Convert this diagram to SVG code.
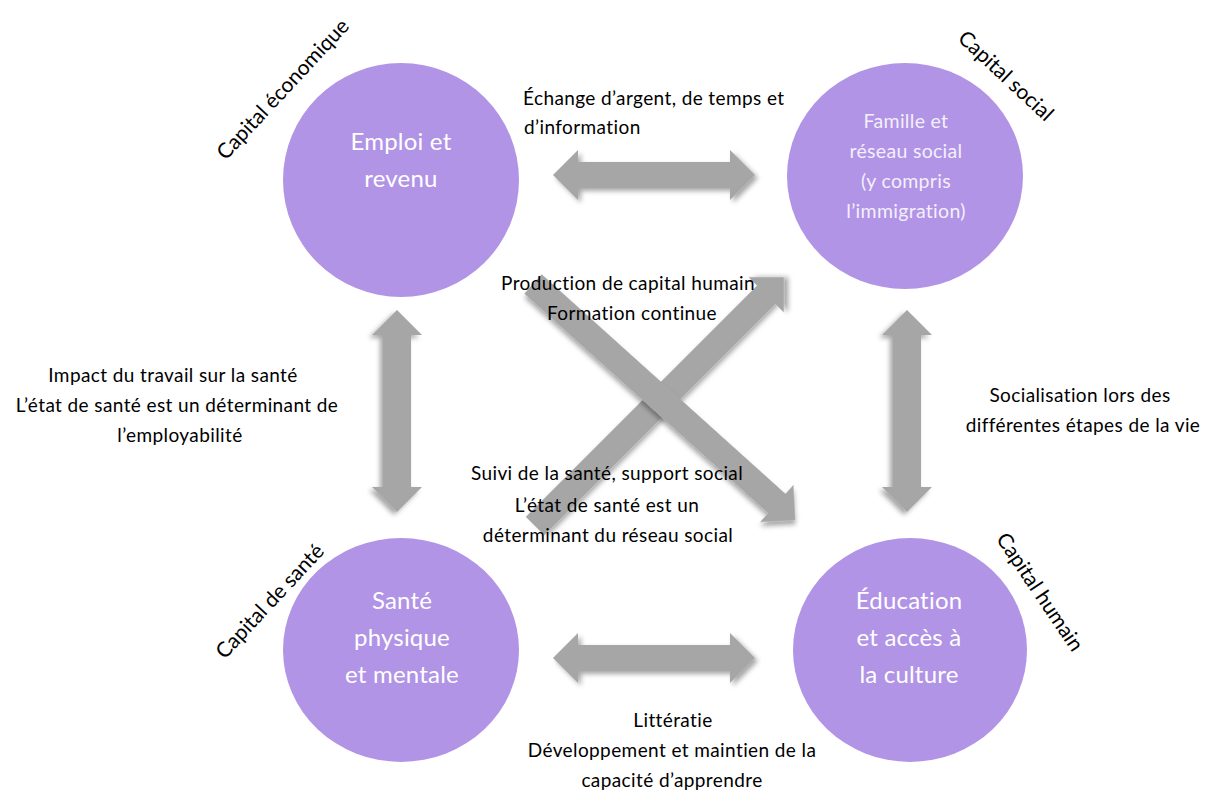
<svg xmlns="http://www.w3.org/2000/svg" width="1207" height="793" viewBox="0 0 1207 793">
<defs>
<filter id="sh" x="-20%" y="-20%" width="140%" height="140%">
<feDropShadow dx="3" dy="3" stdDeviation="2.5" flood-color="#000" flood-opacity="0.35"/>
</filter>
<style>
.c{fill:#b194e6}
.ct{font-family:Lato,"Open Sans",sans-serif;fill:#ffffff;text-anchor:middle;font-size:24px;letter-spacing:0.2px}
.cs{font-family:Lato,"Open Sans",sans-serif;fill:#f4effc;text-anchor:middle;font-size:19.5px;letter-spacing:0.3px}
.t{font-family:Lato,"Open Sans",sans-serif;fill:#000;font-size:19px;letter-spacing:0.4px;text-anchor:middle}
.r{font-family:Lato,"Open Sans",sans-serif;fill:#000;font-size:21px;text-anchor:middle}
.a{fill:#a6a6a6;filter:url(#sh)}
</style>
</defs>
<rect width="1207" height="793" fill="#ffffff"/>
<g id="connectors">
<path class="a" d="M0,0 L25,-25 L25,-13 L177,-13 L177,-25 L202,0 L177,25 L177,13 L25,13 L25,25 Z" transform="translate(553,175)"/>
<path class="a" d="M0,0 L25,-25 L25,-13 L177,-13 L177,-25 L202,0 L177,25 L177,13 L25,13 L25,25 Z" transform="translate(553,658)"/>
<path class="a" d="M0,0 L25,-25 L25,-14 L177,-14 L177,-25 L202,0 L177,25 L177,14 L25,14 L25,25 Z" transform="translate(397,310) rotate(90)"/>
<path class="a" d="M0,0 L25,-25 L25,-14 L177,-14 L177,-25 L202,0 L177,25 L177,14 L25,14 L25,25 Z" transform="translate(907,310) rotate(90)"/>
<path class="a" d="M0,-13 L327,-13 L327,-25 L352,0 L327,25 L327,13 L0,13 Z" transform="translate(535,526) rotate(-45)"/>
<path class="a" d="M0,-13 L328,-13 L328,-25 L353,0 L328,25 L328,13 L0,13 Z" transform="translate(533,284) rotate(42)"/>
</g>
<g id="emploi">
<ellipse class="c" cx="401" cy="180" rx="118" ry="117"/>
<text class="ct" x="401" y="150">Emploi et</text>
<text class="ct" x="401" y="187">revenu</text>
</g>
<g id="famille">
<ellipse class="c" cx="905" cy="176" rx="118" ry="113"/>
<text class="cs" x="906" y="128">Famille et</text>
<text class="cs" x="906" y="158">réseau social</text>
<text class="cs" x="906" y="188">(y compris</text>
<text class="cs" x="906" y="218">l’immigration)</text>
</g>
<g id="sante">
<ellipse class="c" cx="401" cy="650" rx="118" ry="112"/>
<text class="ct" x="402" y="609">Santé</text>
<text class="ct" x="402" y="646">physique</text>
<text class="ct" x="402" y="683">et mentale</text>
</g>
<g id="education">
<ellipse class="c" cx="910" cy="650" rx="117" ry="112"/>
<text class="ct" x="909" y="609">Éducation</text>
<text class="ct" x="909" y="646">et accès à</text>
<text class="ct" x="909" y="683">la culture</text>
</g>
<g id="labels">
<text class="r" transform="translate(288,94) rotate(-47)">Capital économique</text>
<text class="r" transform="translate(1001,81) rotate(43)">Capital social</text>
<text class="r" transform="translate(275,606) rotate(-47)">Capital de santé</text>
<text class="r" transform="translate(1034,596) rotate(56)">Capital humain</text>
<text class="t" x="523" y="105" style="text-anchor:start">Échange d’argent, de temps et</text>
<text class="t" x="524" y="134" style="text-anchor:start">d’information</text>
<text class="t" x="628" y="290">Production de capital humain</text>
<text class="t" x="632" y="320">Formation continue</text>
<text class="t" x="607" y="480">Suivi de la santé, support social</text>
<text class="t" x="607" y="512">L’état de santé est un</text>
<text class="t" x="608" y="542">déterminant du réseau social</text>
<text class="t" x="173" y="382">Impact du travail sur la santé</text>
<text class="t" x="177" y="412">L’état de santé est un déterminant de</text>
<text class="t" x="180" y="442">l’employabilité</text>
<text class="t" x="1080" y="402">Socialisation lors des</text>
<text class="t" x="1083" y="432">différentes étapes de la vie</text>
<text class="t" x="673" y="727">Littératie</text>
<text class="t" x="672" y="757">Développement et maintien de la</text>
<text class="t" x="672" y="787">capacité d’apprendre</text>
</g>
</svg>
